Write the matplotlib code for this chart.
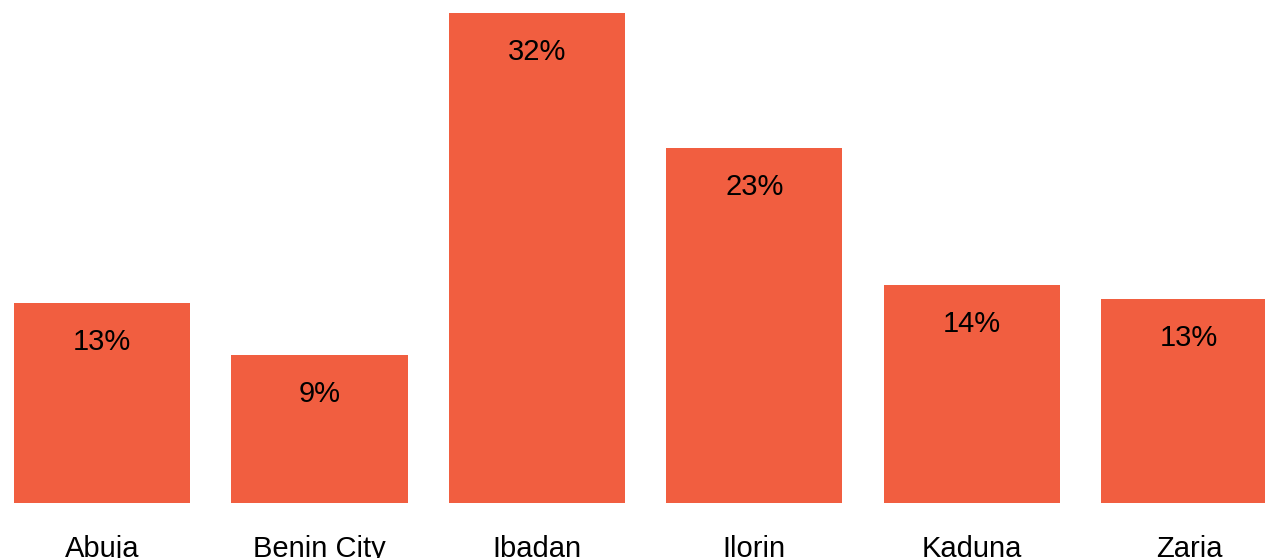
import matplotlib.pyplot as plt
from matplotlib import font_manager

cities = ['Abuja', 'Benin City', 'Ibadan', 'Ilorin', 'Kaduna', 'Zaria']
share = [13.2, 9.8, 32.4, 23.5, 14.4, 13.5]  # percent
labels = ['13%', '9%', '32%', '23%', '14%', '13%']

names = {f.name for f in font_manager.fontManager.ttflist}
font = 'Liberation Sans Narrow' if 'Liberation Sans Narrow' in names else 'Liberation Sans'
plt.rcParams['font.family'] = [font, 'DejaVu Sans']

fig = plt.figure(figsize=(12.65, 5.58), dpi=100)
ax = fig.add_axes([0, 55 / 558, 1, 503 / 558])

x = range(len(cities))
bars = ax.bar(x, share, width=0.81, color='#F15E40')
for b, lab in zip(bars, labels):
    ax.annotate(lab, (b.get_x() + b.get_width() / 2, b.get_height()),
                xytext=(0, -18), textcoords='offset points',
                ha='center', va='top', fontsize=21, color='black')

ax.set_xlim(-0.47, 5.35)
ax.set_ylim(0, 32.4 * 503 / 490)
ax.set_xticks(list(x))
ax.set_xticklabels(cities, fontsize=21)
ax.tick_params(axis='x', length=0, pad=23)
ax.set_yticks([])
for s in ax.spines.values():
    s.set_visible(False)

fig.savefig('out.png', dpi=100)
